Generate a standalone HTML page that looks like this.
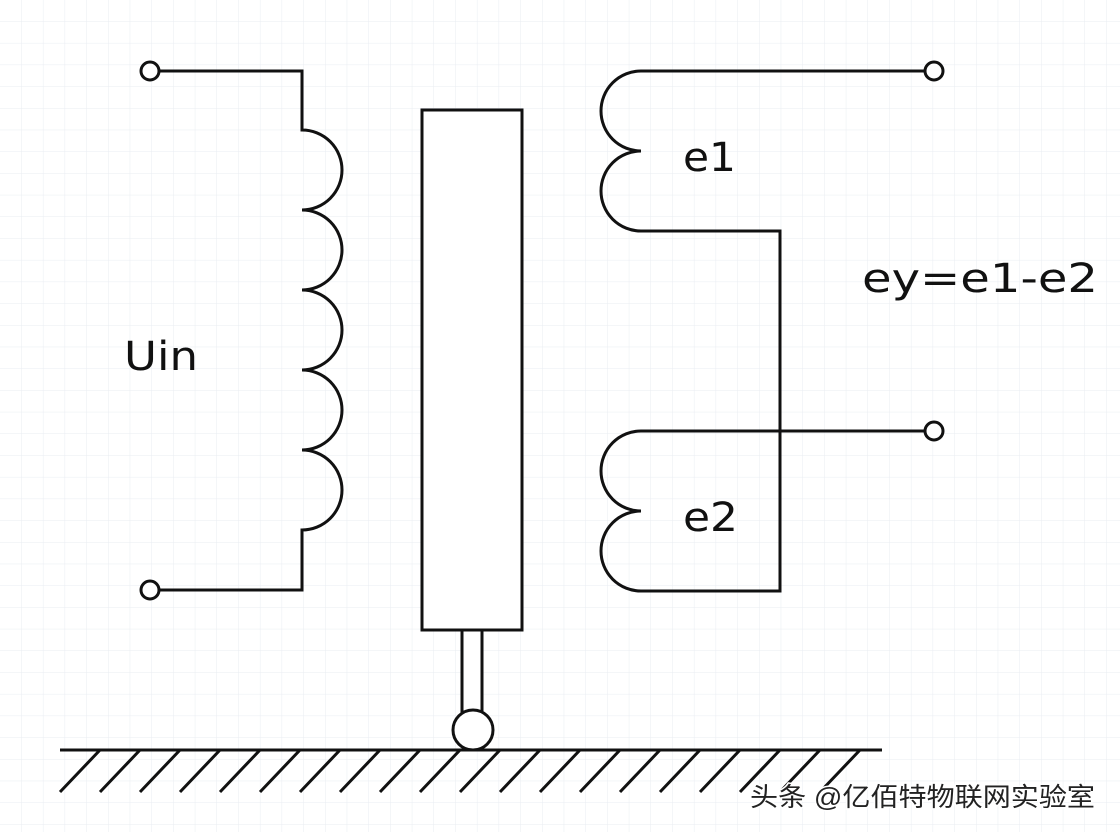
<!DOCTYPE html>
<html><head><meta charset="utf-8"><style>
html,body{margin:0;padding:0;background:#fff}
svg{display:block}
text{font-family:"DejaVu Sans","Liberation Sans",sans-serif;fill:#111}
</style></head><body>
<svg width="1120" height="832" viewBox="0 0 1120 832" xmlns="http://www.w3.org/2000/svg">
<defs>
<pattern id="g" width="21.7" height="21.7" patternUnits="userSpaceOnUse">
<path d="M21.7 0V21.7H0" fill="none" stroke="#e9ecf2" stroke-width="1"/>
</pattern>
</defs>
<rect width="1120" height="832" fill="url(#g)"/>
<g fill="none" stroke="#111" stroke-width="3">
<circle cx="150" cy="71" r="9" fill="#fff"/>
<path d="M159 71H302V130 A40 40 0 0 1 302 210 A40 40 0 0 1 302 290 A40 40 0 0 1 302 370 A40 40 0 0 1 302 450 A40 40 0 0 1 302 530 V590 H159"/>
<circle cx="150" cy="590" r="9" fill="#fff"/>
<rect x="422" y="110" width="100" height="520" fill="#fff"/>
<rect x="462" y="630" width="20" height="82" fill="#fff"/>
<circle cx="473" cy="730" r="20" fill="#fff"/>
<path d="M925 71H641 A40 40 0 0 0 641 151 A40 40 0 0 0 641 231 H780 V591 H641 A40 40 0 0 1 641 511 A40 40 0 0 1 641 431 H925"/>
<circle cx="934" cy="71" r="9" fill="#fff"/>
<circle cx="934" cy="431" r="9" fill="#fff"/>
<path d="M60 750H882"/>
<path d="M100 750L60 792M140 750L100 792M180 750L140 792M220 750L180 792M260 750L220 792M300 750L260 792M340 750L300 792M380 750L340 792M420 750L380 792M460 750L420 792M500 750L460 792M540 750L500 792M580 750L540 792M620 750L580 792M660 750L620 792M700 750L660 792M740 750L700 792M780 750L740 792M820 750L780 792M860 750L820 792"/>
</g>
<text x="124" y="370" font-size="40" textLength="74" lengthAdjust="spacingAndGlyphs">Uin</text>
<text x="683" y="171" font-size="40" textLength="53" lengthAdjust="spacingAndGlyphs">e1</text>
<text x="683" y="531" font-size="40" textLength="55" lengthAdjust="spacingAndGlyphs">e2</text>
<text x="862" y="292" font-size="40" textLength="236" lengthAdjust="spacingAndGlyphs">ey=e1-e2</text>
<text x="750" y="806" font-size="26" textLength="345" lengthAdjust="spacingAndGlyphs" style="font-family:'Liberation Sans','Noto Sans CJK SC',sans-serif;fill:#222;stroke:#fff;stroke-width:3;paint-order:stroke">头条 @亿佰特物联网实验室</text>
</svg>
</body></html>
